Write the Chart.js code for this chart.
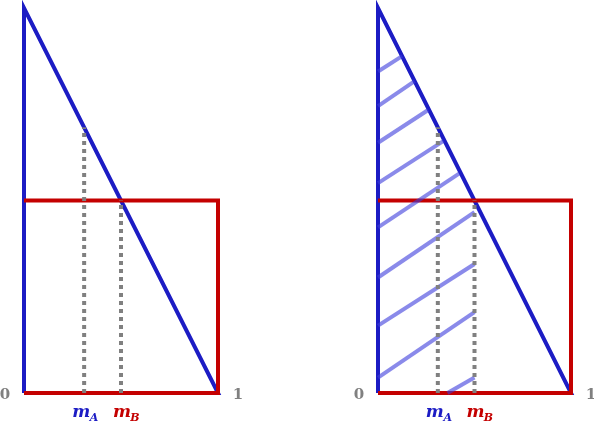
<!DOCTYPE html>
<html>
<head>
<meta charset="UTF-8">
<script src="https://cdn.jsdelivr.net/npm/chart.js"></script>
<style>
  body { margin: 0; background: #fff; }
  .wrap { position: absolute; top: 0; width: 297px; height: 424px; }
</style>
</head>
<body>
<div class="wrap" style="left:0"><canvas id="left"></canvas></div>
<div class="wrap" style="left:297px"><canvas id="right"></canvas></div>
<script>
// shapes in data units (x: 0..1, y: 0..2)
const triX = [0, 0, 1, 0];
const triY = [0, 2, 0, 0];
const rectX = [0, 1, 1, 0];
const rectY = [1, 1, 0, 0];
const mA = 0.31, mB = 0.5;
// hatch segments: [x0, y0, x1, y1]
const hatches = [
  [0, 1.67, 0.125, 1.75], [0, 1.49, 0.19, 1.62], [0, 1.30, 0.26, 1.47],
  [0, 1.09, 0.34, 1.31], [0, 0.86, 0.42, 1.14], [0, 0.60, 0.5, 0.94],
  [0, 0.35, 0.5, 0.67], [0, 0.08, 0.5, 0.42], [0.36, 0, 0.5, 0.08]
];

const BLUE = '#1c1cc4', RED = '#c40000', GREY = '#808080';
const pts = (xs, ys) => xs.map((x, i) => ({ x: x, y: ys[i] }));
const line = (data, color, extra) => Object.assign({
  data: data, showLine: true, borderColor: color, borderWidth: 4,
  pointRadius: 0, fill: false, tension: 0, clip: false
}, extra || {});

const labels = {
  id: 'labels',
  afterDraw(chart) {
    const c = chart.ctx, sx = chart.scales.x, sy = chart.scales.y;
    const y0 = sy.getPixelForValue(0);
    c.save();
    c.textBaseline = 'middle';
    c.textAlign = 'center';
    c.fillStyle = GREY;
    c.font = 'bold 15px "DejaVu Serif"';
    c.fillText('0', sx.getPixelForValue(0) - 19, y0 + 2);
    c.fillText('1', sx.getPixelForValue(1) + 20, y0 + 2);
    c.font = 'italic bold 17px "DejaVu Serif"';
    c.fillStyle = BLUE;
    c.fillText('m', sx.getPixelForValue(mA) - 3, y0 + 20);
    c.font = 'italic bold 11px "DejaVu Serif"';
    c.fillText('A', sx.getPixelForValue(mA) + 10, y0 + 25);
    c.font = 'italic bold 17px "DejaVu Serif"';
    c.fillStyle = RED;
    c.fillText('m', sx.getPixelForValue(mB) + 1, y0 + 20);
    c.font = 'italic bold 11px "DejaVu Serif"';
    c.fillText('B', sx.getPixelForValue(mB) + 14, y0 + 25);
    c.restore();
  }
};

function makeChart(id, padding, hatched) {
  const ds = [];
  ds.push(line(pts([mA, mA], [0, 2 - 2 * mA]), GREY, { borderDash: [4, 4] }));
  ds.push(line(pts([mB, mB], [0, 1]), GREY, { borderDash: [4, 4] }));
  if (hatched) {
    hatches.forEach(h => ds.push(line(pts([h[0], h[2]], [h[1], h[3]]), 'rgba(60,60,220,0.6)')));
  }
  ds.push(line(pts(rectX, rectY), RED));
  ds.push(line(pts(triX, triY), BLUE));
  if (hatched) ds.push(line(pts([0, 1], [0, 0]), '#000'));
  new Chart(document.getElementById(id), {
    type: 'scatter',
    data: { datasets: ds },
    options: {
      animation: false, responsive: true, maintainAspectRatio: false,
      layout: { padding: padding },
      plugins: { legend: { display: false }, tooltip: { enabled: false } },
      scales: {
        x: { type: 'linear', min: 0, max: 1, display: false },
        y: { type: 'linear', min: 0, max: 2, display: false }
      }
    },
    plugins: [labels]
  });
}

makeChart('left', { left: 24, right: 79, top: 8, bottom: 31 }, false);
makeChart('right', { left: 81, right: 23, top: 8, bottom: 31 }, true);
</script>
</body>
</html>
